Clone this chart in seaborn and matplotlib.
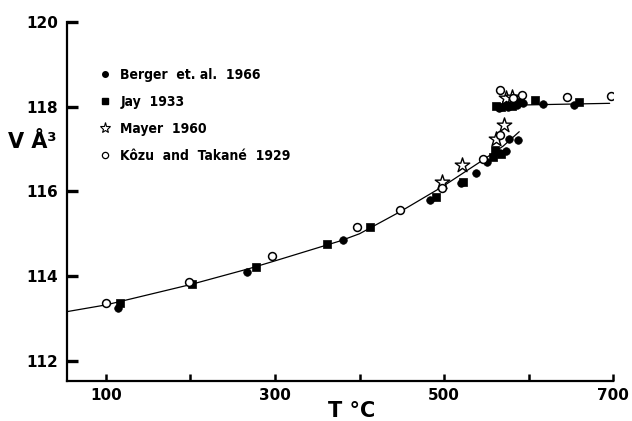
import matplotlib
matplotlib.use("Agg")
import matplotlib.pyplot as plt
import seaborn as sns
import pandas as pd
from matplotlib.lines import Line2D

# --- data ---
berger_T = [114, 266.5, 380, 483, 520, 538, 550.5, 566, 573, 577, 588,
            565, 576, 586, 594, 617, 654]
berger_V = [113.24, 114.10, 114.85, 115.79, 116.20, 116.43, 116.70, 116.90, 116.96, 117.24, 117.21,
            117.98, 118.00, 118.05, 118.08, 118.07, 118.05]

jay_T = [117, 202, 277, 362, 412, 490.5, 522, 557.5, 560, 568,
         562, 567, 573, 580, 590, 608, 660]
jay_V = [113.37, 113.81, 114.22, 114.76, 115.16, 115.86, 116.22, 116.82, 116.98, 116.88,
         118.02, 118.00, 118.05, 118.02, 118.10, 118.15, 118.12]

mayer_T = [498, 521.6, 561.5, 571, 573, 580]
mayer_V = [116.22, 116.62, 117.23, 117.58, 118.20, 118.22]

kozu_T = [100, 198, 297, 397, 448, 498, 546.5, 566,
          566, 582, 592, 646, 698]
kozu_V = [113.36, 113.87, 114.48, 115.16, 115.56, 116.09, 116.76, 117.34,
          118.39, 118.20, 118.27, 118.22, 118.25]

# fitted curves
fit_low_T = [53.5, 100, 200, 270, 300, 377, 400, 448, 498, 546, 570, 589]
fit_low_V = [113.16, 113.32, 113.80, 114.18, 114.36, 114.83, 115.00, 115.52, 116.11, 116.74, 117.07, 117.41]
fit_high_T = [565, 696]
fit_high_V = [118.03, 118.08]

x_ticks = [100, 200, 300, 400, 500, 600, 700]
x_ticklabels = ["100", "", "300", "", "500", "", "700"]
y_ticks = [112, 114, 116, 118, 120]
y_ticklabels = ["112", "114", "116", "118", "120"]

labels = ["Berger  et. al.  1966", "Jay  1933", "Mayer  1960", "K\u00f4zu  and  Takan\u00e9  1929"]

sns.set_theme(style="white")
FONT = ["Liberation Sans Narrow", "DejaVu Sans"]
plt.rcParams["font.family"] = FONT
plt.rcParams["font.weight"] = "bold"
plt.rcParams["font.stretch"] = "condensed"
plt.rcParams["text.color"] = "black"

fig = plt.figure(figsize=(6.32, 4.21), dpi=100)
ax = fig.add_axes([0.1055, 0.0957, 0.8645, 0.852])

d_low = pd.DataFrame({"T": fit_low_T, "V": fit_low_V})
d_high = pd.DataFrame({"T": fit_high_T, "V": fit_high_V})
sns.lineplot(data=d_low, x="T", y="V", ax=ax, color="black", lw=0.9, sort=False, estimator=None)
sns.lineplot(data=d_high, x="T", y="V", ax=ax, color="black", lw=0.9, sort=False, estimator=None)

sns.scatterplot(x=berger_T, y=berger_V, ax=ax, marker="o", s=30, color="black", edgecolor="black", linewidth=0.5, zorder=3)
sns.scatterplot(x=jay_T, y=jay_V, ax=ax, marker="s", s=28, color="black", edgecolor="black", linewidth=0.5, zorder=3)
sns.scatterplot(x=mayer_T, y=mayer_V, ax=ax, marker="*", s=120, facecolor="white", edgecolor="black", linewidth=1.0, zorder=4)
sns.scatterplot(x=kozu_T, y=kozu_V, ax=ax, marker="o", s=32, facecolor="white", edgecolor="black", linewidth=1.1, zorder=4)

ax.set_xlim(53.5, 700)
ax.set_ylim(111.53, 120)
ax.set_xticks(x_ticks)
ax.set_xticklabels(x_ticklabels)
ax.set_yticks(y_ticks)
ax.set_yticklabels(y_ticklabels)
ax.set_xlabel("")
ax.set_ylabel("")

for s in ["top", "right"]:
    ax.spines[s].set_visible(False)
for s in ["left", "bottom"]:
    ax.spines[s].set_color("black")
    ax.spines[s].set_linewidth(1.6)

ax.tick_params(axis="y", left=True, direction="in", length=8, width=2.4, pad=6, labelsize=11, colors="black")
ax.tick_params(axis="x", bottom=True, direction="in", length=5, width=1.8, pad=5, labelsize=11, colors="black")
for t in ax.get_xticklabels() + ax.get_yticklabels():
    t.set_fontweight("bold")
    t.set_fontfamily(["DejaVu Sans"])
    t.set_fontstretch("normal")

handles = [
    Line2D([], [], ls="none", marker="o", ms=4, color="black"),
    Line2D([], [], ls="none", marker="s", ms=4, color="black"),
    Line2D([], [], ls="none", marker="*", ms=8, mfc="white", mec="black", mew=0.8),
    Line2D([], [], ls="none", marker="o", ms=4.5, mfc="white", mec="black", mew=0.9),
]
leg = ax.legend(handles, labels, loc="upper left", bbox_to_anchor=(0.05, 0.888), frameon=False,
                prop={"family": FONT, "weight": "bold", "size": 10, "stretch": "condensed"},
                handlelength=0.8, handletextpad=0.7, labelspacing=0.95, borderaxespad=0,
                labelcolor="black")

fig.text(0.557, 0.024, "T \u00b0C", fontsize=15, fontweight="bold", ha="center", va="center",
         family=["DejaVu Sans"], fontstretch="normal", color="black")
fig.text(0.012, 0.662, "V \u00c5\u00b3", fontsize=15, fontweight="bold", ha="left", va="center",
         family=["DejaVu Sans"], fontstretch="normal", color="black")

fig.savefig("out.png", dpi=100)
